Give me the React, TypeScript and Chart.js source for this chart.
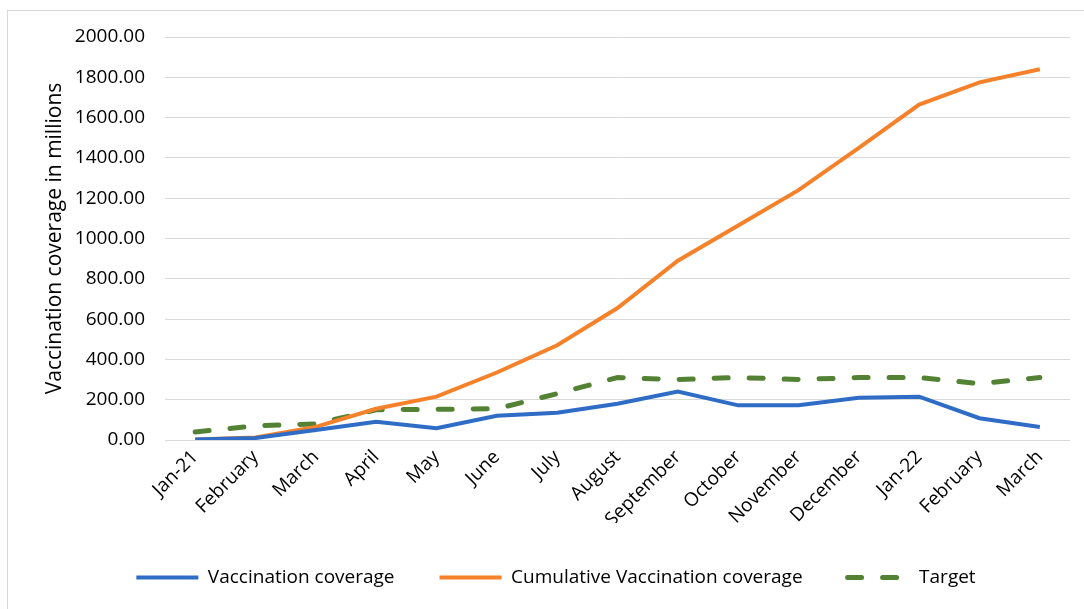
import React, { useEffect, useRef } from "react";
import { Chart, registerables } from "chart.js";

Chart.register(...registerables);

const categories = [
  "Jan-21", "February", "March", "April", "May", "June", "July", "August",
  "September", "October", "November", "December", "Jan-22", "February", "March",
];
const vaccinationCoverage = [3, 10, 50, 90, 58, 120, 135, 180, 240, 172, 172, 210, 215, 108, 65];
const cumulativeCoverage = [3, 12, 65, 155, 215, 335, 470, 655, 890, 1065, 1240, 1450, 1665, 1775, 1840];
const target = [40, 70, 80, 150, 152, 155, 230, 310, 300, 310, 300, 310, 310, 280, 310];

const FONT = "'Open Sans', 'DejaVu Sans', sans-serif";
const PAD_BOTTOM = 12;
const CHART_BOTTOM = 440;

export default function App() {
  const ref = useRef<HTMLCanvasElement | null>(null);

  useEffect(() => {
    document.body.style.margin = "0";
    document.body.style.overflow = "hidden";
    const ctx = ref.current!;
    const chart = new Chart(ctx, {
      type: "line",
      data: {
        labels: categories,
        datasets: [
          {
            label: "Vaccination coverage",
            data: vaccinationCoverage,
            borderColor: "#2e6cc6",
            backgroundColor: "#2e6cc6",
            borderWidth: 4,
            pointRadius: 0,
            tension: 0,
          },
          {
            label: "Cumulative Vaccination coverage",
            data: cumulativeCoverage,
            borderColor: "#f5822a",
            backgroundColor: "#f5822a",
            borderWidth: 4,
            pointRadius: 0,
            tension: 0,
          },
          {
            label: "Target",
            data: target,
            borderColor: "#548235",
            backgroundColor: "#548235",
            borderWidth: 5,
            borderDash: [14, 21],
            borderCapStyle: "round",
            pointRadius: 0,
            tension: 0,
          },
        ],
      },
      options: {
        responsive: false,
        animation: false,
        devicePixelRatio: 1,
        layout: { padding: { top: 37, left: 42, right: 14, bottom: PAD_BOTTOM } },
        plugins: {
          tooltip: { enabled: false },
          legend: {
            position: "bottom",
            labels: {
              usePointStyle: true,
              pointStyle: "line",
              pointStyleWidth: 62,
              boxWidth: 62,
              padding: 45,
              color: "#000",
              font: { family: FONT, size: 19 },
              generateLabels: (c: any) => {
                const items = (Chart as any).defaults.plugins.legend.labels.generateLabels(c);
                return items.map((it: any) => {
                  const ds: any = c.data.datasets[it.datasetIndex];
                  return {
                    ...it,
                    pointStyle: "line",
                    lineWidth: ds.borderWidth,
                    lineDash: ds.borderDash || [],
                    lineCap: ds.borderCapStyle || "butt",
                    strokeStyle: ds.borderColor,
                    fillStyle: ds.borderColor,
                  };
                });
              },
            },
          },
        },
        scales: {
          x: {
            offset: true,
            grid: { display: false, drawTicks: false },
            border: { display: false },
            ticks: {
              color: "#000",
              font: { family: FONT, size: 19 },
              maxRotation: 45,
              minRotation: 45,
              autoSkip: false,
              padding: 6,
            },
            afterFit: (scale: any) => {
              const lg = scale.chart.legend;
              const lh = lg ? lg.height : 0;
              scale.height = scale.chart.height - CHART_BOTTOM - lh - PAD_BOTTOM;
            },
          },
          y: {
            min: 0,
            max: 2000,
            grid: { color: "#d9d9d9", lineWidth: 1, drawTicks: false },
            border: { display: false },
            ticks: {
              stepSize: 200,
              color: "#000",
              font: { family: FONT, size: 19 },
              padding: 20,
              callback: (v: any) => Number(v).toFixed(2),
            },
            title: {
              display: true,
              text: "Vaccination coverage in millions",
              color: "#000",
              font: { family: FONT, size: 21 },
              padding: { top: 0, bottom: 0 },
            },
            afterFit: (scale: any) => {
              scale.width = 123;
            },
          },
        },
      },
    });
    return () => chart.destroy();
  }, []);

  return (
    <div style={{ position: "fixed", left: 0, top: 0, width: 1084, height: 609, background: "#fff" }}>
      <div
        style={{
          position: "absolute",
          left: 7,
          top: 10,
          width: 1100,
          height: 700,
          border: "1px solid #d9d9d9",
          boxSizing: "border-box",
        }}
      />
      <canvas ref={ref} width={1084} height={609} style={{ position: "absolute", left: 0, top: 0 }} />
    </div>
  );
}
